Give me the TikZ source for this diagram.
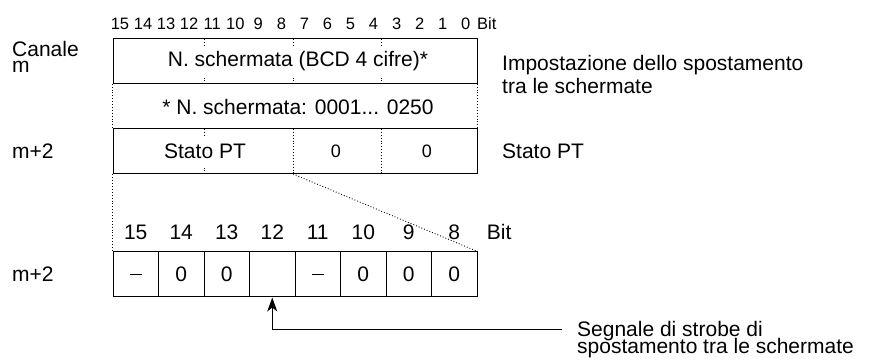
\documentclass[tikz,border=0pt]{standalone}
\usepackage{fontspec}
\setmainfont{Liberation Sans}
\usetikzlibrary{arrows.meta}
\newcommand{\twolines}[3]{\vtop{\baselineskip=#1\lineskiplimit=-100pt\hbox{#2}\hbox{#3}}}
\newcommand{\celldash}{\rule{11.5pt}{1.4pt}}
\begin{document}
\begin{tikzpicture}[x=1pt,y=-1pt,
  box/.style={draw=black,line width=1pt,minimum width=364pt,minimum height=45pt,inner sep=0pt},
  frame/.style={minimum width=364pt,minimum height=45pt,inner sep=0pt},
  cell/.style={draw=black,line width=1pt,minimum width=45.5pt,minimum height=45pt,inner sep=0pt,font=\fontsize{21}{21}\selectfont},
  big/.style={inner sep=0pt,font=\fontsize{21}{21}\selectfont},
  mid/.style={inner sep=0pt,font=\fontsize{18}{18}\selectfont},
  small/.style={inner sep=0pt,font=\fontsize{16.5}{16.5}\selectfont},
  dots/.style={line width=0.9pt,dotted},
  tick/.style={line width=0.9pt,dotted}]
\useasboundingbox (0,0) rectangle (870,363);
% upper register rows
\node[box] (r1) at (295,61.5) {};
\node[frame] (r2) at (295,106.5) {};
\node[box] (r3) at (295,151.5) {};
\draw[dots] (r2.north west) -- (r2.south west);
\draw[dots] (r2.north east) -- (r2.south east);
% divider coordinates
\coordinate (d1t) at (204,39);  \coordinate (d2t) at (293,39);  \coordinate (d3t) at (381,39);
\coordinate (d1b) at (204,84);  \coordinate (d2b) at (293,84);  \coordinate (d3b) at (381,84);
\foreach \d in {d1,d2,d3}{
  \draw[tick] (\d t) -- ++(0,6);
  \draw[tick] (\d b) -- ++(0,-6);
}
\coordinate (e1t) at (204,129); \coordinate (e1b) at (204,174);
\draw[tick] (e1t) -- ++(0,6);
\draw[tick] (e1b) -- ++(0,-6);
\coordinate (e2t) at (293,129); \coordinate (e2b) at (293,174);
\coordinate (e3t) at (381,129); \coordinate (e3b) at (381,174);
\draw[dots] (e2t) -- (e2b);
\draw[dots] (e3t) -- (e3b);
% texts in upper rows
\node[big] (t1) at (298,61.5) {N. schermata (BCD 4 cifre)*};
\node[big] (t2) at (298,106.5) {* N. schermata: 0001... 0250};
\node[big] (t3) at (205,151.5) {Stato PT};
\node[mid] (t4) at (336,151.5) {0};
\node[mid] (t5) at (427,151.5) {0};
% top bit numbers
\foreach \k [evaluate=\k as \xx using 120+(15-\k)*23.05] in {15,14,...,0}{
  \node[small,anchor=base] (b\k) at (\xx,29.3) {\k};
}
\node[small,anchor=base west] (bitT) at (477,29.3) {Bit};
% left labels
\node[big,anchor=base west] (canale) at (12,56.5) {\twolines{15.8pt}{Canale}{m}};
\node[big,anchor=west] (m2a) at (12,151.5) {m+2};
\node[big,anchor=west] (m2b) at (12,274.5) {m+2};
% right labels
\node[big,anchor=base west] (imp) at (502,70.7) {\twolines{23.3pt}{Impostazione dello spostamento}{tra le schermate}};
\node[big,anchor=west] (stpt) at (502,151.5) {Stato PT};
% lower cells
\foreach \k/\t [count=\i from 0] in {15/\celldash,14/0,13/0,12/{},11/\celldash,10/0,9/0,8/0}{
  \node[cell] (c\k) at (135.75+\i*45.5,274.5) {\t};
  \node[big,anchor=base] (n\k) at (135.75+\i*45.5,240) {\k};
}
\node[big,anchor=base west] (bitB) at (486.7,240) {Bit};
% expansion lines
\draw[dots] (r3.south west) -- (c15.north west);
\draw[dots] (e2b) -- (c8.north east);
% strobe arrow
\node[big,anchor=base west] (sg) at (577,336.3) {\twolines{17.3pt}{Segnale di strobe di}{spostamento tra le schermate}};
\coordinate (sl) at (562,329);
\draw[line width=1pt,-{Stealth[length=14pt,width=10pt,inset=4pt]}] (sl) -| (c12.south);
\end{tikzpicture}
\end{document}
